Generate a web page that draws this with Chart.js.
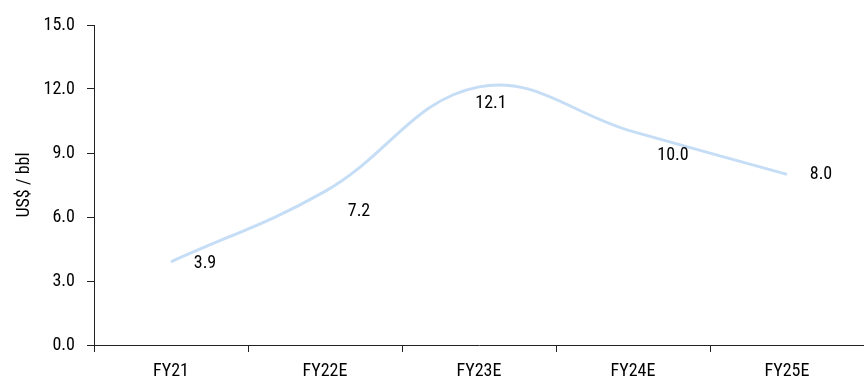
<!DOCTYPE html>
<html>
<head>
<meta charset="utf-8">
<script src="https://cdn.jsdelivr.net/npm/chart.js@4"></script>
<style>
  html, body { margin: 0; padding: 0; background: #fff; }
  #wrap { width: 864px; height: 382px; }
</style>
</head>
<body>
<div id="wrap"><canvas id="chart"></canvas></div>
<script>
const years = ['FY21', 'FY22E', 'FY23E', 'FY24E', 'FY25E'];
const margin = [3.9, 7.2, 12.1, 10.0, 8.0];
const yTicks = [0, 3, 6, 9, 12, 15];

// where each value label sits relative to its point
const labelShift = [[34, 2], [34, 20], [12, 17], [40, 24], [34, 0]];

const FONT = '"Roboto Condensed", Roboto, sans-serif';
const TXT = '#000';

const valueLabels = {
  id: 'valueLabels',
  afterDatasetsDraw(chart) {
    const ctx = chart.ctx;
    const meta = chart.getDatasetMeta(0);
    ctx.save();
    ctx.font = '18px ' + FONT;
    ctx.fillStyle = TXT;
    ctx.textAlign = 'center';
    ctx.textBaseline = 'middle';
    meta.data.forEach(function(pt, i) {
      ctx.fillText(margin[i].toFixed(1), pt.x + labelShift[i][0], pt.y + labelShift[i][1]);
    });
    ctx.restore();
  }
};

const ctx = document.getElementById('chart').getContext('2d');
const chart = new Chart(ctx, {
  type: 'line',
  data: {
    labels: years,
    datasets: [{
      label: 'US$ / bbl',
      data: margin,
      borderColor: '#c6ddf6',
      borderWidth: 3,
      pointRadius: 0,
      tension: 0.4,
      fill: false
    }]
  },
  options: {
    responsive: true,
    maintainAspectRatio: false,
    animation: false,
    layout: { padding: { top: 25, right: 0, bottom: 0, left: 0 } },
    plugins: {
      legend: { display: false },
      tooltip: { enabled: false }
    },
    scales: {
      x: {
        offset: true,
        border: { color: '#222', width: 1 },
        grid: { offset: true, drawOnChartArea: false, drawTicks: true, tickLength: 7, color: '#222' },
        ticks: { color: TXT, font: { family: FONT, size: 18 }, padding: 9, maxRotation: 0 },
        afterFit: function(axis) { axis.height = 37; }
      },
      y: {
        min: 0,
        max: 15,
        afterBuildTicks: function(axis) { axis.ticks = yTicks.map(v => ({ value: v })); },
        border: { color: '#222', width: 1 },
        grid: { drawOnChartArea: false, drawTicks: true, tickLength: 7, color: '#222' },
        ticks: {
          color: TXT,
          font: { family: FONT, size: 18 },
          padding: 12,
          callback: function(v) { return Number(v).toFixed(1); }
        },
        title: {
          display: true,
          text: 'US$ / bbl',
          color: TXT,
          font: { family: FONT, size: 18 },
          padding: { top: 14, bottom: 0 }
        },
        afterFit: function(axis) { axis.width = 94; }
      }
    }
  },
  plugins: [valueLabels]
});
</script>
</body>
</html>
